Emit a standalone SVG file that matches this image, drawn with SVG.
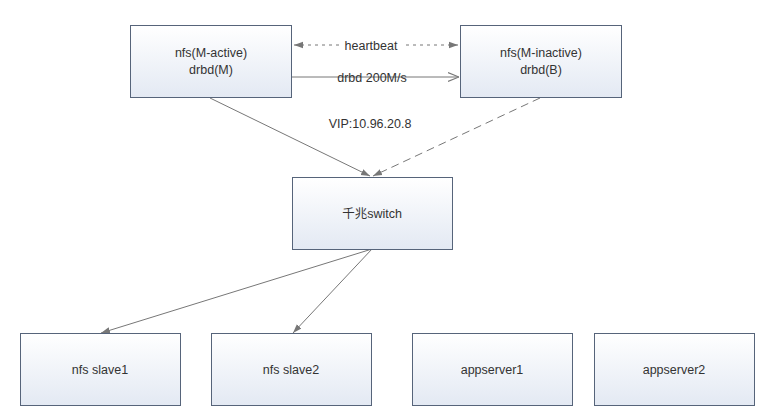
<svg xmlns="http://www.w3.org/2000/svg" width="772" height="415" viewBox="0 0 772 415">
<style>
.box{fill:url(#g);stroke:#56647a;stroke-width:1}
.t{font-family:"Liberation Sans","Noto Sans CJK SC",sans-serif;font-size:12.5px;fill:#333;text-anchor:middle}
.ln{stroke:#777;stroke-width:1;fill:none}
</style>
<defs>
<linearGradient id="g" x1="0" y1="0" x2="0" y2="1">
<stop offset="0" stop-color="#ffffff"/>
<stop offset="1" stop-color="#e3e9f3"/>
</linearGradient>
<marker id="fa" viewBox="0 0 10 10" refX="10" refY="5" markerWidth="9" markerHeight="9" orient="auto-start-reverse" markerUnits="userSpaceOnUse">
<path d="M0,1.5 L10,5 L0,8.5 z" fill="#777"/>
</marker>
<marker id="oa" viewBox="0 0 10 10" refX="10" refY="5" markerWidth="11" markerHeight="11" orient="auto" markerUnits="userSpaceOnUse">
<path d="M0,1 L10,5 L0,9" fill="none" stroke="#777" stroke-width="1"/>
</marker>
</defs>
<g id="connectors">
<line class="ln" x1="294" y1="45" x2="458" y2="45" stroke-dasharray="3,4" marker-start="url(#fa)" marker-end="url(#fa)"/>
<line class="ln" x1="291" y1="77" x2="459" y2="77" marker-end="url(#oa)"/>
<line class="ln" x1="210" y1="98" x2="370" y2="176" marker-end="url(#fa)"/>
<line class="ln" x1="540" y1="98" x2="373" y2="176" stroke-dasharray="8,5" marker-end="url(#fa)"/>
<line class="ln" x1="372" y1="249" x2="101" y2="333" marker-end="url(#fa)"/>
<line class="ln" x1="372" y1="249" x2="293" y2="333" marker-end="url(#fa)"/>
<rect x="340" y="38" width="62" height="14" fill="#fff"/>
<text class="t" x="371" y="50">heartbeat</text>
<text class="t" x="372" y="82">drbd 200M/s</text>
<text class="t" x="370" y="128">VIP:10.96.20.8</text>
</g>
<g id="node-active"><rect class="box" x="130.5" y="25.5" width="161" height="72"/><text class="t" x="211" y="57">nfs(M-active)</text><text class="t" x="211" y="74">drbd(M)</text></g>
<g id="node-inactive"><rect class="box" x="460.5" y="25.5" width="161" height="72"/><text class="t" x="541" y="57">nfs(M-inactive)</text><text class="t" x="541" y="74">drbd(B)</text></g>
<g id="node-switch"><rect class="box" x="292.5" y="177.5" width="160" height="72"/><text class="t" x="372" y="218">千兆switch</text></g>
<g id="node-slave1"><rect class="box" x="20.5" y="333.5" width="160" height="72"/><text class="t" x="100" y="374">nfs slave1</text></g>
<g id="node-slave2"><rect class="box" x="211.5" y="333.5" width="160" height="72"/><text class="t" x="291" y="374">nfs slave2</text></g>
<g id="node-app1"><rect class="box" x="412.5" y="333.5" width="160" height="72"/><text class="t" x="492" y="374">appserver1</text></g>
<g id="node-app2"><rect class="box" x="594.5" y="333.5" width="160" height="72"/><text class="t" x="674" y="374">appserver2</text></g>
</svg>
